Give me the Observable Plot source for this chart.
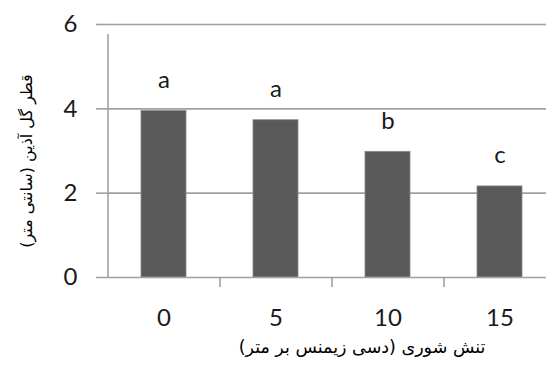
<!DOCTYPE html>
<html>
<head>
<meta charset="utf-8">
<script src="https://cdn.jsdelivr.net/npm/d3@7"></script>
<script src="https://cdn.jsdelivr.net/npm/@observablehq/plot@0.6"></script>
<style>
  html, body { margin: 0; padding: 0; background: #fff; overflow: hidden; }
</style>
</head>
<body>
<div id="chart"></div>
<script>
const categories = [0, 5, 10, 15];
const values = [3.95, 3.73, 2.98, 2.16];
const letters = ["a", "a", "b", "c"];
const yTicks = [0, 2, 4, 6];
const xTitle = "تنش شوری (دسی زیمنس بر متر)";
const yTitle = "قطر گل آذین (سانتی متر)";

const data = categories.map((c, i) => ({cat: c, value: values[i], letter: letters[i]}));

const W = 546, H = 367;
const digitFont = "Lato, 'Open Sans', sans-serif";
const faFont = "'DejaVu Sans', sans-serif";

const chart = Plot.plot({
  width: W,
  height: H,
  marginTop: 24,
  marginBottom: 90,
  marginLeft: 107,
  marginRight: 0,
  style: {fontFamily: digitFont, background: "#fff", color: "#1a1a1a"},
  x: {type: "band", domain: categories, range: [107.5, 555.5], paddingInner: 0.6, paddingOuter: 0.3},
  y: {domain: [0, 6]},
  marks: [
    Plot.ruleY(yTicks.filter(d => d > 0), {stroke: "#a0a0a0", strokeWidth: 1.6}),
    Plot.barY(data, {x: "cat", y: "value", fill: "#595959", stroke: "#8a8a8a", strokeWidth: 0.8}),
    Plot.ruleY([0], {stroke: "#a0a0a0", strokeWidth: 1.6}),
    // y axis line (left edge of first category band)
    Plot.ruleX(categories.slice(0, 1), {x: d => d, y1: 0, y2: 6, dx: -56, insetBottom: -10, stroke: "#a0a0a0", strokeWidth: 1.6}),
    // category boundary ticks
    Plot.ruleX(categories.slice(1), {x: d => d, y1: 0, y2: 0, dx: -56, insetBottom: -10, stroke: "#a0a0a0", strokeWidth: 1.6}),
    Plot.axisY({ticks: yTicks, tickSize: 11, tickPadding: 19, fontSize: 24, stroke: "#a0a0a0", strokeWidth: 1.6, label: null, tickFormat: d => String(d), fill: "#1a1a1a"}),
    Plot.axisX({tickSize: 0, tickPadding: 31, fontSize: 24, label: null, tickFormat: d => String(d), fill: "#1a1a1a"}),
    Plot.text(data, {x: "cat", y: "value", text: "letter", dy: -31, fontSize: 24, fill: "#1a1a1a", lineAnchor: "middle"}),
    Plot.text([xTitle], {frameAnchor: "bottom", text: d => d, dx: 35, dy: 70, fontSize: 17.5, fontFamily: faFont, fill: "#000", lineAnchor: "middle", textAnchor: "middle"}),
    Plot.text([yTitle], {frameAnchor: "left", text: d => d, dx: -81, dy: 10, rotate: -90, fontSize: 16, fontFamily: faFont, fill: "#000", lineAnchor: "middle", textAnchor: "middle"})
  ]
});
document.getElementById("chart").appendChild(chart);
</script>
</body>
</html>
